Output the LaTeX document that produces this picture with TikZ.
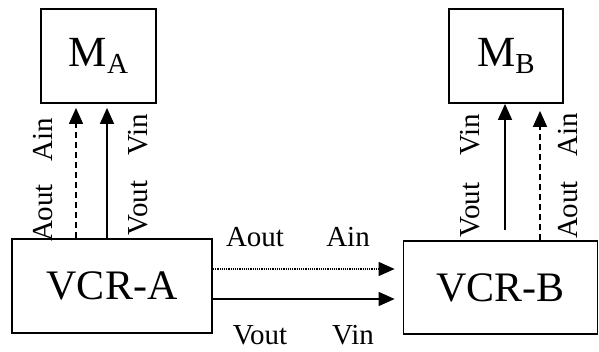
\documentclass[tikz,border=0pt]{standalone}
\usepackage{fontspec}
\setmainfont{Liberation Serif}
\usetikzlibrary{arrows.meta}
\begin{document}
\begin{tikzpicture}[x=1pt,y=-1pt,
  box/.style={draw,line width=1.8pt,inner sep=0pt,minimum width=#1},
  bigtxt/.style={font=\fontsize{42}{42}\selectfont},
  lbl/.style={inner sep=0pt,font=\fontsize{29}{29}\selectfont},
  vlbl/.style={lbl,rotate=90},
  link/.style={line width=1.5pt,-{Triangle[length=16pt,width=14pt]}},
  dashlink/.style={link,dash pattern=on 6pt off 4pt},
  dotlink/.style={link,line width=1.2pt,dash pattern=on 1.2pt off 1pt}]
\useasboundingbox (0,0) rectangle (599,352);

% the four boxes
\node[box=115pt,minimum height=94pt] (ma) at (98.5,56)
  {\fontsize{43}{43}\selectfont M\raisebox{-7pt}{\fontsize{29}{29}\selectfont A}};
\node[box=114pt,minimum height=94pt] (mb) at (506,56)
  {\fontsize{43}{43}\selectfont M\raisebox{-7pt}{\fontsize{29}{29}\selectfont B}};
\node[box=200pt,minimum height=94pt,bigtxt] (vcra) at (112,286) {VCR-A};
\node[box=194pt,minimum height=93pt,bigtxt] (vcrb) at (500.5,287.5) {VCR-B};

% VCR-A up to its monitor
\draw[dashlink,shorten >=4pt] (vcra.north -| 76,0) -- (ma.south -| 76,0);
\draw[link,shorten >=4pt] (vcra.north -| 107,0) -- (ma.south -| 107,0);
\node[vlbl] (la1) at (43,213) {Aout};
\node[vlbl] (la2) at (43,140) {Ain};
\node[vlbl] (la3) at (138,208) {Vout};
\node[vlbl] (la4) at (138,135) {Vin};

% VCR-B up to its monitor
\draw[link,shorten <=10pt] (vcrb.north -| 505,0) -- (mb.south -| 505,0);
\draw[dashlink,shorten >=7pt] (vcrb.north -| 540,0) -- (mb.south -| 540,0);
\node[vlbl] (lb1) at (470,210) {Vout};
\node[vlbl] (lb2) at (470,135) {Vin};
\node[vlbl] (lb3) at (568,210) {Aout};
\node[vlbl] (lb4) at (568,135) {Ain};

% VCR-A to VCR-B
\draw[dotlink,shorten >=8pt] (vcra.east |- 0,269) -- (vcrb.west |- 0,269);
\draw[link,shorten >=8pt] (vcra.east |- 0,299) -- (vcrb.west |- 0,299);
\node[lbl] (lh1) at (255,237) {Aout};
\node[lbl] (lh2) at (348,237) {Ain};
\node[lbl] (lh3) at (260,335) {Vout};
\node[lbl] (lh4) at (353,335) {Vin};
\end{tikzpicture}
\end{document}
